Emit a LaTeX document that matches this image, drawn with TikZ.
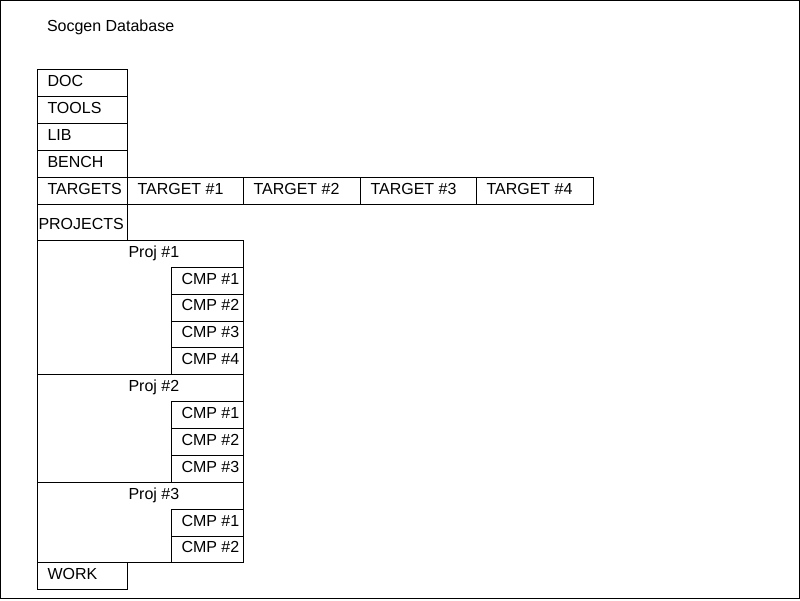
\documentclass[tikz,border=0pt]{standalone}
\usepackage{fontspec}
\setmainfont{Liberation Sans}
\begin{document}
\begin{tikzpicture}[x=1pt,y=-1pt,
  box/.style={draw, line width=1pt, anchor=north west, inner sep=0pt, outer sep=0pt},
  txt/.style={anchor=base west, inner sep=0pt, outer sep=0pt, font=\fontsize{16}{19}\selectfont},
  cell/.style={box, label={[txt, xshift=10pt, yshift=-16.5pt]north west:{#1}}},
  projbox/.style={box, minimum width=206pt, label={[txt, xshift=91pt, yshift=-16.5pt]north west:{#1}}},
  col/.style={minimum width=90pt, minimum height=27pt},
  cmp/.style={cell={#1}, minimum width=72pt, minimum height=26.75pt},
]
\useasboundingbox (0,0) rectangle (800,600);
\draw[line width=1pt] (0.5,0.5) rectangle (799.5,598.5);

\node[txt] (title) at (47,31) {Socgen Database};

\node[cell=DOC, col] (doc) at (37.5,69.5) {};
\node[cell=TOOLS, col] (tools) at (37.5,96.5) {};
\node[cell=LIB, col] (lib) at (37.5,123.5) {};
\node[cell=BENCH, col] (bench) at (37.5,150.5) {};
\node[cell=TARGETS, col] (targets) at (37.5,177.5) {};

\node[cell={TARGET \#1}, minimum width=116pt, minimum height=27pt] (t1) at (127.5,177.5) {};
\node[cell={TARGET \#2}, minimum width=117pt, minimum height=27pt] (t2) at (243.5,177.5) {};
\node[cell={TARGET \#3}, minimum width=116pt, minimum height=27pt] (t3) at (360.5,177.5) {};
\node[cell={TARGET \#4}, minimum width=117pt, minimum height=27pt] (t4) at (476.5,177.5) {};

\node[box, minimum width=90pt, minimum height=36pt,
      label={[txt, xshift=1pt, yshift=-25pt]north west:PROJECTS}] (projects) at (37.5,204.5) {};

\node[projbox={Proj \#1}, minimum height=134pt] (p1) at (37.5,240.5) {};
\node[cmp={CMP \#1}] (p1c1) at (171.5,267.5) {};
\node[cmp={CMP \#2}] (p1c2) at (171.5,294.25) {};
\node[cmp={CMP \#3}] (p1c3) at (171.5,321) {};
\node[cmp={CMP \#4}] (p1c4) at (171.5,347.75) {};

\node[projbox={Proj \#2}, minimum height=108pt] (p2) at (37.5,374.5) {};
\node[cmp={CMP \#1}, minimum height=27pt] (p2c1) at (171.5,401.5) {};
\node[cmp={CMP \#2}, minimum height=27pt] (p2c2) at (171.5,428.5) {};
\node[cmp={CMP \#3}, minimum height=27pt] (p2c3) at (171.5,455.5) {};

\node[projbox={Proj \#3}, minimum height=80pt] (p3) at (37.5,482.5) {};
\node[cmp={CMP \#1}, minimum height=26.5pt] (p3c1) at (171.5,509.5) {};
\node[cmp={CMP \#2}, minimum height=26.5pt] (p3c2) at (171.5,536) {};

\node[cell=WORK, minimum width=90pt, minimum height=26.5pt] (work) at (37.5,562.5) {};
\end{tikzpicture}
\end{document}
